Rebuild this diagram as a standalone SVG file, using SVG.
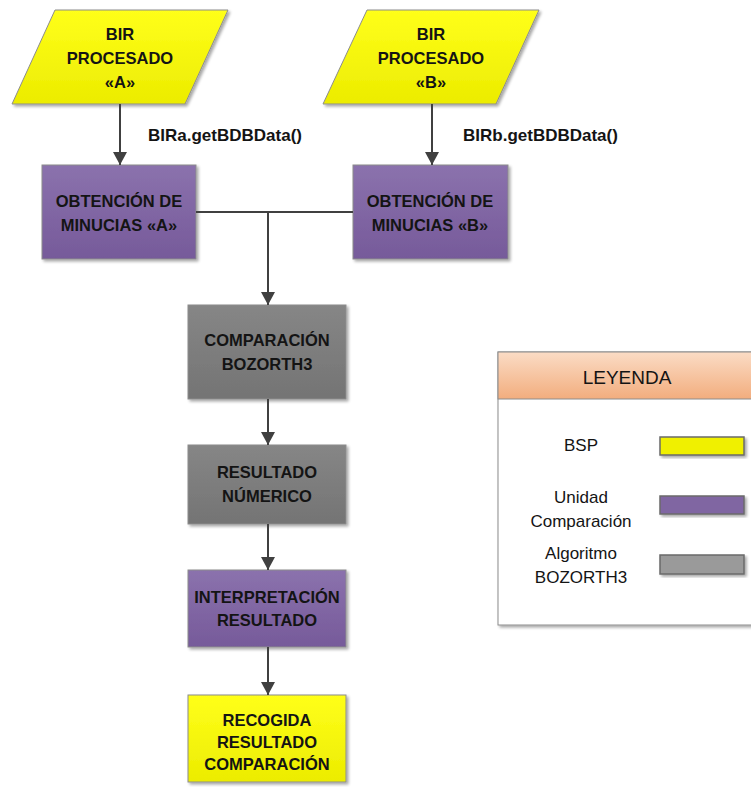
<svg xmlns="http://www.w3.org/2000/svg" width="751" height="787" viewBox="0 0 751 787">
  <defs>
    <linearGradient id="gYellow" x1="0" y1="0" x2="0" y2="1">
      <stop offset="0" stop-color="#ffff1a"/>
      <stop offset="1" stop-color="#ecec00"/>
    </linearGradient>
    <linearGradient id="gPurple" x1="0" y1="0" x2="0" y2="1">
      <stop offset="0" stop-color="#8b72ad"/>
      <stop offset="1" stop-color="#765a9a"/>
    </linearGradient>
    <linearGradient id="gGray" x1="0" y1="0" x2="0" y2="1">
      <stop offset="0" stop-color="#868686"/>
      <stop offset="1" stop-color="#747474"/>
    </linearGradient>
    <linearGradient id="gPeach" x1="0" y1="0" x2="0" y2="1">
      <stop offset="0" stop-color="#fbdcc5"/>
      <stop offset="1" stop-color="#f2ad7e"/>
    </linearGradient>
    <filter id="shadow" x="-10%" y="-10%" width="125%" height="130%">
      <feGaussianBlur in="SourceAlpha" stdDeviation="1.5"/>
      <feOffset dx="1.5" dy="2" result="b"/>
      <feComponentTransfer><feFuncA type="linear" slope="0.35"/></feComponentTransfer>
      <feMerge><feMergeNode/><feMergeNode in="SourceGraphic"/></feMerge>
    </filter>
    <marker id="arrow" markerWidth="14" markerHeight="14" refX="13" refY="7" orient="auto" markerUnits="userSpaceOnUse">
      <path d="M0,0 L13,7 L0,14 Z" fill="#404040"/>
    </marker>
  </defs>
  <style>
    .node { stroke: #8c8c8c; stroke-width: 1; filter: url(#shadow); }
    .yellow { fill: url(#gYellow); }
    .purple { fill: url(#gPurple); }
    .gray { fill: url(#gGray); }
    .swatch { stroke: #6a6a6a; stroke-width: 1.5; filter: url(#shadow); }
    .lbl { font-family: "Liberation Sans", Arial, sans-serif; font-weight: bold; font-size: 16.5px; fill: #141414; text-anchor: middle; }
    .edge-lbl { font-family: "Liberation Sans", Arial, sans-serif; font-weight: bold; font-size: 17px; fill: #141414; }
    .leg { font-family: "Liberation Sans", Arial, sans-serif; font-size: 17px; fill: #141414; text-anchor: middle; }
    .edge { stroke: #404040; stroke-width: 2; fill: none; }
  </style>

  <!-- Input records -->
  <g id="bir-a">
    <polygon class="node yellow" points="55,10 228,10 185,104 12,104"/>
    <text class="lbl" x="120" y="40">BIR</text>
    <text class="lbl" x="120" y="64">PROCESADO</text>
    <text class="lbl" x="120" y="88">«A»</text>
  </g>
  <g id="bir-b">
    <polygon class="node yellow" points="367,10 539,10 496,104 323,104"/>
    <text class="lbl" x="431" y="40">BIR</text>
    <text class="lbl" x="431" y="64">PROCESADO</text>
    <text class="lbl" x="431" y="88">«B»</text>
  </g>

  <!-- Minutiae extraction -->
  <g id="minucias-a">
    <rect class="node purple" x="42" y="165" width="154" height="94"/>
    <text class="lbl" x="119" y="207">OBTENCIÓN DE</text>
    <text class="lbl" x="119" y="231">MINUCIAS «A»</text>
  </g>
  <g id="minucias-b">
    <rect class="node purple" x="353" y="165" width="155" height="94"/>
    <text class="lbl" x="430" y="207">OBTENCIÓN DE</text>
    <text class="lbl" x="430" y="231">MINUCIAS «B»</text>
  </g>

  <!-- Matching chain -->
  <g id="comparacion">
    <rect class="node gray" x="188" y="305" width="158" height="94"/>
    <text class="lbl" x="267" y="346">COMPARACIÓN</text>
    <text class="lbl" x="267" y="370">BOZORTH3</text>
  </g>
  <g id="resultado">
    <rect class="node gray" x="188" y="445" width="158" height="79"/>
    <text class="lbl" x="267" y="478">RESULTADO</text>
    <text class="lbl" x="267" y="502">NÚMERICO</text>
  </g>
  <g id="interpretacion">
    <rect class="node purple" x="188" y="570" width="158" height="77"/>
    <text class="lbl" x="267" y="603">INTERPRETACIÓN</text>
    <text class="lbl" x="267" y="626">RESULTADO</text>
  </g>
  <g id="recogida">
    <rect class="node yellow" x="188" y="695" width="158" height="87"/>
    <text class="lbl" x="267" y="726">RECOGIDA</text>
    <text class="lbl" x="267" y="748">RESULTADO</text>
    <text class="lbl" x="267" y="770">COMPARACIÓN</text>
  </g>

  <!-- Connectors -->
  <g id="connectors">
    <line class="edge" x1="120" y1="104" x2="120" y2="165" marker-end="url(#arrow)"/>
    <line class="edge" x1="432" y1="104" x2="432" y2="165" marker-end="url(#arrow)"/>
    <text class="edge-lbl" x="148" y="141">BIRa.getBDBData()</text>
    <text class="edge-lbl" x="463" y="141">BIRb.getBDBData()</text>
    <polyline class="edge" points="196,212 353,212"/>
    <line class="edge" x1="268" y1="212" x2="268" y2="305" marker-end="url(#arrow)"/>
    <line class="edge" x1="268" y1="399" x2="268" y2="445" marker-end="url(#arrow)"/>
    <line class="edge" x1="268" y1="524" x2="268" y2="570" marker-end="url(#arrow)"/>
    <line class="edge" x1="268" y1="647" x2="268" y2="695" marker-end="url(#arrow)"/>
  </g>

  <!-- Legend -->
  <g id="leyenda">
    <rect x="498" y="352" width="260" height="273" fill="#ffffff" stroke="#8c8c8c" stroke-width="1" filter="url(#shadow)"/>
    <rect x="498" y="352" width="260" height="47" fill="url(#gPeach)" stroke="#8c8c8c" stroke-width="1"/>
    <text x="627" y="384" font-family="'Liberation Sans', Arial, sans-serif" font-size="19" fill="#141414" text-anchor="middle">LEYENDA</text>
    <text class="leg" x="581" y="451">BSP</text>
    <rect class="swatch" x="660" y="437" width="84" height="18" fill="#f0f000"/>
    <text class="leg" x="581" y="503">Unidad</text>
    <text class="leg" x="581" y="527">Comparación</text>
    <rect class="swatch" x="660" y="496" width="84" height="18" fill="#8066a2"/>
    <text class="leg" x="581" y="559">Algoritmo</text>
    <text class="leg" x="581" y="583">BOZORTH3</text>
    <rect class="swatch" x="660" y="555" width="84" height="19" fill="#9a9a9a"/>
  </g>
</svg>
